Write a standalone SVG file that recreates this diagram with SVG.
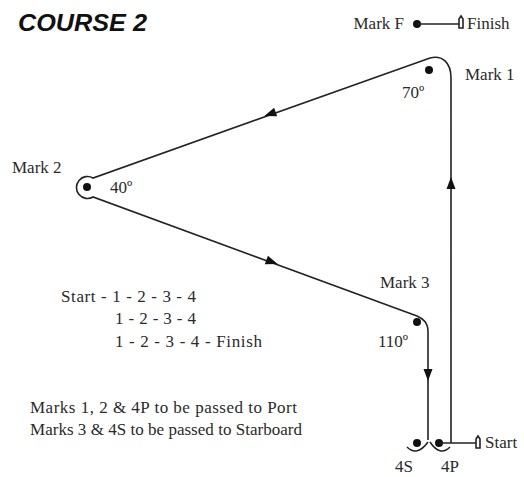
<svg xmlns="http://www.w3.org/2000/svg" width="524" height="477" viewBox="0 0 524 477">
<defs>
<style>
.t{font-family:"Liberation Serif","Times New Roman",serif;font-size:17px;fill:#2a2a2a}
.title{font-family:"Liberation Sans",Arial,sans-serif;font-size:23px;font-weight:bold;font-style:italic;fill:#111}
.ln{fill:none;stroke:#222;stroke-width:1.6}
.ah{fill:#111}
.dot{fill:#111}
</style>
<polygon id="ah" points="6,0 -6,-4.5 -6,4.5"/>
</defs>
<rect width="524" height="477" fill="#fff"/>
<text class="title" x="18" y="31" textLength="129" lengthAdjust="spacingAndGlyphs">COURSE 2</text>

<g id="markF">
<circle class="dot" cx="417" cy="24" r="4"/>
<text class="t" x="404" y="29" text-anchor="end">Mark F</text>
</g>
<g id="finish">
<path class="ln" d="M459 28 V19 L461 16 L463 19 V28 Z" stroke-width="1.2"/>
<text class="t" x="467" y="29">Finish</text>
</g>
<g id="mark1">
<circle class="dot" cx="429" cy="70" r="4"/>
<text class="t" x="465" y="80">Mark 1</text>
<text class="t" x="402" y="98">70º</text>
</g>
<g id="mark2">
<circle class="dot" cx="87" cy="187" r="4"/>
<text class="t" x="12" y="173">Mark 2</text>
<text class="t" x="110" y="193">40º</text>
</g>
<g id="mark3">
<circle class="dot" cx="417" cy="322" r="4"/>
<text class="t" x="380" y="288">Mark 3</text>
<text class="t" x="378" y="347">110º</text>
</g>
<g id="mark4S">
<circle class="dot" cx="417" cy="443" r="4"/>
<text class="t" x="395" y="472" font-size="15">4S</text>
</g>
<g id="mark4P">
<circle class="dot" cx="439" cy="443" r="4"/>
<text class="t" x="441" y="472" font-size="15">4P</text>
</g>
<g id="start">
<path class="ln" d="M476 448 V439 L478 436 L480 439 V448 Z" stroke-width="1.2"/>
<text class="t" x="485" y="448">Start</text>
</g>

<g id="connectors">
<path class="ln" d="M417 24 H459"/>
<path class="ln" d="M439 443 H476"/>
<path class="ln" d="M451 443 V78 C451 62 442 55 430 58 L93 178 A11 11 0 1 0 93 197 L417 316 C424 319 428 323 428 332 V440"/>
<path class="ln" d="M407 447 Q417 457 428 442"/>
<path class="ln" d="M430 442 Q440 457 450 447"/>
<use href="#ah" class="ah" transform="translate(270,114) rotate(160.3)"/>
<use href="#ah" class="ah" transform="translate(272,262) rotate(20.1)"/>
<use href="#ah" class="ah" transform="translate(451,183) rotate(-90)"/>
<use href="#ah" class="ah" transform="translate(428,375) rotate(90)"/>
</g>

<g id="notes">
<text class="t" x="61" y="302" textLength="135" lengthAdjust="spacing">Start - 1 - 2 - 3 - 4</text>
<text class="t" x="115" y="324" textLength="81" lengthAdjust="spacing">1 - 2 - 3 - 4</text>
<text class="t" x="115" y="347" textLength="147" lengthAdjust="spacing">1 - 2 - 3 - 4 - Finish</text>
<text class="t" x="30" y="413" textLength="267" lengthAdjust="spacing">Marks 1, 2 &amp; 4P to be passed to Port</text>
<text class="t" x="30" y="435" textLength="272" lengthAdjust="spacing">Marks 3 &amp; 4S to be passed to Starboard</text>
</g>
</svg>
